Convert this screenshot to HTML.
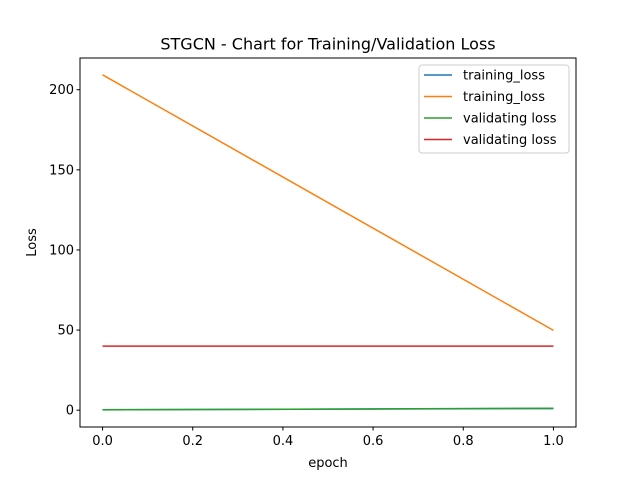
<!DOCTYPE html>
<html><head><meta charset="utf-8"><style>
body{margin:0;background:#fff;}
svg text{font-family:"DejaVu Sans","Liberation Sans",sans-serif;fill:#000;}
</style></head><body>
<svg id="chart" width="640" height="480" xmlns="http://www.w3.org/2000/svg">
<rect width="640" height="480" fill="#fff"/>
<text x="328" y="49.5" font-size="16" text-anchor="middle">STGCN - Chart for Training/Validation Loss</text>
<g id="grid"></g>
<g id="series"></g>
<rect x="80" y="58" width="496" height="369" fill="none" stroke="#000" stroke-width="1"/>
<text x="328" y="467" font-size="13" text-anchor="middle">epoch</text>
<text transform="translate(36,242.5) rotate(-90)" font-size="13" text-anchor="middle">Loss</text>
<g id="legend"></g>
</svg>
<script>
const epochs=[0,1];
const trainA=[0.3,1.0];
const trainB=[209.3,49.8];
const valA=[0.2,1.2];
const valB=[40,40];
const xTicks=[0,0.2,0.4,0.6,0.8,1.0];
const xTickLabels=["0.0","0.2","0.4","0.6","0.8","1.0"];
const yTicks=[0,50,100,150,200];
const seriesNames=["training_loss","training_loss","validating loss","validating loss"];
const NS="http://www.w3.org/2000/svg";
const L=80,R=576,T=58,B=427;
const xmin=-0.05,xmax=1.05,ymin=-10.5,ymax=219.8;
function X(v){return L+(v-xmin)/(xmax-xmin)*(R-L);}
function Y(v){return B-(v-ymin)/(ymax-ymin)*(B-T);}
function mk(t,a){const e=document.createElementNS(NS,t);for(const k in a)e.setAttribute(k,a[k]);return e;}
const g=document.getElementById('grid');
xTicks.forEach((v,i)=>{
 const l=mk('line',{x1:X(v),x2:X(v),y1:B,y2:B+3.5,stroke:'#000'});
 
 
 g.appendChild(l);
 const t=mk('text',{x:X(v),y:B+18,'font-size':13,'text-anchor':'middle'});
 
 
 t.textContent=xTickLabels[i];g.appendChild(t);
});
yTicks.forEach(v=>{
 const l=mk('line',{x1:L-3.5,x2:L,y1:Y(v),y2:Y(v),stroke:'#000'});
 
 
 g.appendChild(l);
 const t=mk('text',{x:L-6,y:Y(v)+4.5,'font-size':13,'text-anchor':'end'});
 
 
 t.textContent=v;g.appendChild(t);
});
const colors=['#1f77b4','#ff7f0e','#2ca02c','#d62728'];
const data=[trainA,trainB,valA,valB];
const s=document.getElementById('series');
data.forEach((d,i)=>{
 const pts=d.map((v,j)=>X(epochs[j])+','+Y(v)).join(' ');
 const p=mk('polyline',{points:pts,fill:'none',stroke:colors[i],'stroke-width':1.5});
 
 
 s.appendChild(p);
});
const lg=document.getElementById('legend');
const box=mk('rect',{x:419,y:65,width:150,height:88,fill:'#fff',stroke:'#ccc',rx:3});


lg.appendChild(box);
seriesNames.forEach((n,i)=>{
 const y=75+i*21.5;
 const l=mk('line',{x1:424,x2:452,y1:y,y2:y,stroke:colors[i],'stroke-width':1.5});
 
 
 lg.appendChild(l);
 const t=mk('text',{x:463,y:y+4.5,'font-size':13});
 
 
 t.textContent=n;lg.appendChild(t);
});
</script>
</body></html>
